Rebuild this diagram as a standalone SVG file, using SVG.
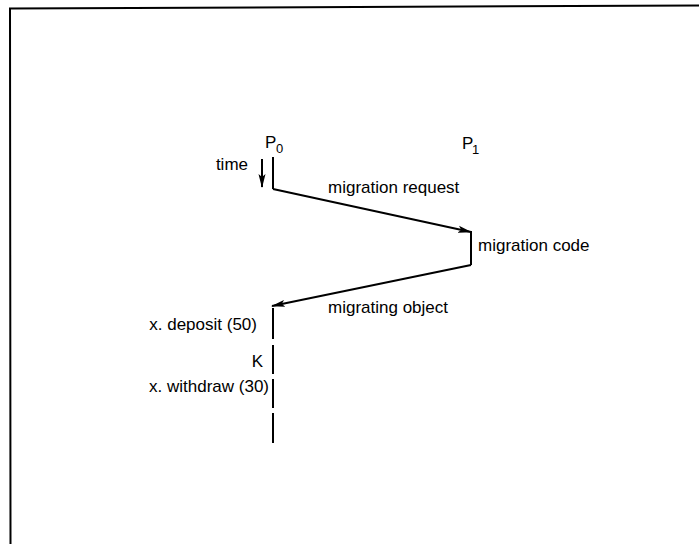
<svg xmlns="http://www.w3.org/2000/svg" width="699" height="544" viewBox="0 0 699 544">
<defs>
<marker id="ah" viewBox="0 0 14 8" refX="13" refY="4" markerWidth="14" markerHeight="8" markerUnits="userSpaceOnUse" orient="auto">
<path d="M0,0.5 L14,4 L0,7.5 L3,4 Z" fill="#000"/>
</marker>
</defs>
<style>
text{font-family:"Liberation Sans",Arial,sans-serif;font-size:17px;fill:#000}
.sub{font-size:13px}
.ln{stroke:#000;stroke-width:2;fill:none}
</style>
<rect width="699" height="544" fill="#fff"/>
<g id="frame">
<path class="ln" d="M10.5,544 L10,8.5 L699,5.5"/>
</g>
<g id="P0">
<text x="265" y="148">P</text><text class="sub" x="276" y="153">0</text>
</g>
<g id="P1">
<text x="462" y="149">P</text><text class="sub" x="472" y="154">1</text>
</g>
<g id="time">
<text x="248" y="170" text-anchor="end">time</text>
</g>
<g id="lifelines">
<line class="ln" x1="273" y1="157" x2="273" y2="189"/>
<line class="ln" x1="471" y1="231" x2="471" y2="265"/>
<line class="ln" x1="273" y1="308" x2="273" y2="339"/>
<line class="ln" x1="273" y1="345" x2="273" y2="374"/>
<line class="ln" x1="273" y1="379" x2="273" y2="408"/>
<line class="ln" x1="273" y1="413" x2="273" y2="443"/>
</g>
<g id="labels">
<text x="478" y="251">migration code</text>
<text x="257" y="330" text-anchor="end">x. deposit (50)</text>
<text x="263" y="367" text-anchor="end">K</text>
<text x="269" y="392" text-anchor="end">x. withdraw (30)</text>
</g>
<g id="connectors">
<line class="ln" x1="262" y1="159" x2="262" y2="187" marker-end="url(#ah)"/>
<line class="ln" x1="273" y1="189" x2="471" y2="232" marker-end="url(#ah)"/>
<line class="ln" x1="471" y1="265" x2="272" y2="306" marker-end="url(#ah)"/>
<text x="328" y="193">migration request</text>
<text x="328" y="313">migrating object</text>
</g>
</svg>
